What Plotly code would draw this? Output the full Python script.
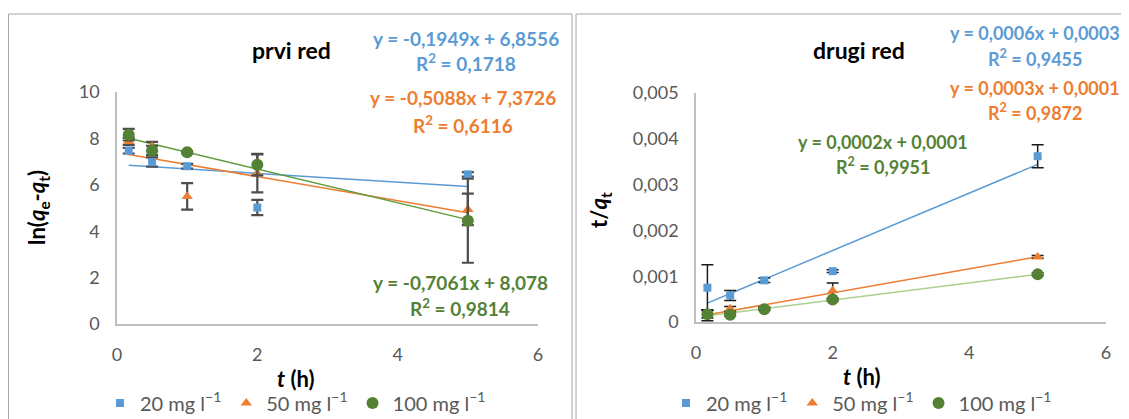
import numpy as np
import plotly.graph_objects as go

# page body has an 8px margin: the figure starts at (8, 8) in the window
OFF = 8
W, H = 1129 - OFF, 419 - OFF

# ---------------- data ----------------
t_h = [0.167, 0.5, 1, 2, 5]
series_names = ["20 mg l<sup>−1</sup>", "50 mg l<sup>−1</sup>", "100 mg l<sup>−1</sup>"]

# first order: ln(qe - qt)
ln_20 = [7.47, 6.98, 6.80, 5.02, 6.45]
ln_50 = [7.87, 7.65, 5.50, 6.50, 4.94]
ln_100 = [8.16, 7.48, 7.40, 6.86, 4.45]
ln_20_err = [0.12, 0.20, 0.10, 0.33, 0.10]
ln_50_err = [0.15, 0.20, 0.57, 0.83, 0.68]
ln_100_err = [0.25, 0.20, 0.05, 0.45, 1.81]

# second order: t / qt
tq_20 = [0.00075, 0.00058, 0.00091, 0.00111, 0.00362]
tq_50 = [0.00015, 0.00029, 0.00030, 0.00068, 0.00142]
tq_100 = [0.00017, 0.00016, 0.00028, 0.00049, 0.00104]
tq_20_err = [0.00050, 0.00011, 0.00005, 0.00003, 0.00025]
tq_50_err = [0.00012, 0.00005, 0.00003, 0.00017, 0.00003]
tq_100_err = [0.00008, 0.00003, 0.00002, 0.00003, 0.00003]

eq_first = ["y = -0,1949x + 6,8556", "y = -0,5088x + 7,3726", "y = -0,7061x + 8,078"]
r2_first = ["R<sup>2</sup> = 0,1718", "R<sup>2</sup> = 0,6116", "R<sup>2</sup> = 0,9814"]
eq_second = ["y = 0,0006x + 0,0003", "y = 0,0003x + 0,0001", "y = 0,0002x + 0,0001"]
r2_second = ["R<sup>2</sup> = 0,9455", "R<sup>2</sup> = 0,9872", "R<sup>2</sup> = 0,9951"]

x_ticks = [0, 2, 4, 6]
x_ticktext = ["0", "2", "4", "6"]
y1_ticks = [0, 2, 4, 6, 8, 10]
y1_ticktext = ["0", "2", "4", "6", "8", "10"]
y2_ticks = [0, 0.001, 0.002, 0.003, 0.004, 0.005]
y2_ticktext = ["0", "0,001", "0,002", "0,003", "0,004", "0,005"]

# ---------------- styles ----------------
FONT = "Lato"
blue, orange, green = "#5B9BD5", "#ED7D31", "#548235"
marker_cols = [blue, orange, green]
symbols = ["square", "triangle-up", "circle"]
msizes = [8, 10, 12]
line_cols_1 = [blue, orange, "#5E9B3E"]
line_cols_2 = [blue, orange, "#A9D18E"]
text_grey = "#595959"


def px(x):
    return (x - OFF) / W


def py(y):
    return 1 - (y - OFF) / H


fig = go.Figure()

first = [(ln_20, ln_20_err), (ln_50, ln_50_err), (ln_100, ln_100_err)]
second = [(tq_20, tq_20_err), (tq_50, tq_50_err), (tq_100, tq_100_err)]

# trendlines (fitted from data)
for i, (vals, _) in enumerate(first):
    k, b = np.polyfit(t_h, vals, 1)
    xs = [min(t_h), max(t_h)]
    fig.add_trace(go.Scatter(x=xs, y=[k * v + b for v in xs], mode="lines",
                             line=dict(color=line_cols_1[i], width=1.5),
                             showlegend=False, hoverinfo="skip",
                             xaxis="x", yaxis="y"))
for i, (vals, _) in enumerate(second):
    k, b = np.polyfit(t_h, vals, 1)
    xs = [min(t_h), max(t_h)]
    fig.add_trace(go.Scatter(x=xs, y=[k * v + b for v in xs], mode="lines",
                             line=dict(color=line_cols_2[i], width=1.5),
                             showlegend=False, hoverinfo="skip",
                             xaxis="x2", yaxis="y2"))

for i, (vals, err) in enumerate(first):
    fig.add_trace(go.Scatter(x=t_h, y=vals, mode="markers", name=series_names[i],
                             marker=dict(symbol=symbols[i], size=msizes[i], color=marker_cols[i]),
                             error_y=dict(type="data", array=err, visible=True,
                                          color="#4D4D4D", thickness=2.2, width=6),
                             xaxis="x", yaxis="y", legend="legend"))
for i, (vals, err) in enumerate(second):
    fig.add_trace(go.Scatter(x=t_h, y=vals, mode="markers", name=series_names[i],
                             marker=dict(symbol=symbols[i], size=msizes[i], color=marker_cols[i]),
                             error_y=dict(type="data", array=err, visible=True,
                                          color="#1A1A1A", thickness=1.5, width=6),
                             xaxis="x2", yaxis="y2", legend="legend2"))

axis_common = dict(showgrid=False, zeroline=False, showline=True, linecolor="#BFBFBF",
                   linewidth=1.5, tickfont=dict(family=FONT, size=18, color=text_grey),
                   tickmode="array", fixedrange=True, automargin=False)

legend_font = dict(family=FONT, size=20, color=text_grey)

fig.update_layout(
    width=W, height=H,
    margin=dict(l=0, r=0, t=0, b=0, autoexpand=False),
    paper_bgcolor="white", plot_bgcolor="white",
    font=dict(family=FONT),
    xaxis=dict(domain=[px(117), px(538)], range=[0, 6], tickvals=x_ticks, ticktext=x_ticktext,
               ticks="outside", ticklen=14, tickcolor="rgba(0,0,0,0)", anchor="y", **axis_common),
    yaxis=dict(domain=[py(324), py(92)], range=[0, 10], tickvals=y1_ticks, ticktext=y1_ticktext,
               ticks="outside", ticklen=12, tickcolor="rgba(0,0,0,0)", anchor="x", **axis_common),
    xaxis2=dict(domain=[px(696), px(1106)], range=[0, 6], tickvals=x_ticks, ticktext=x_ticktext,
                ticks="outside", ticklen=14, tickcolor="rgba(0,0,0,0)", anchor="y2", **axis_common),
    yaxis2=dict(domain=[py(322), py(93)], range=[0, 0.005], tickvals=y2_ticks, ticktext=y2_ticktext,
                ticks="outside", ticklen=12, tickcolor="rgba(0,0,0,0)", anchor="x2", **axis_common),
    legend=dict(orientation="h", x=px(100), y=py(403), xanchor="left", yanchor="middle",
                font=legend_font, bgcolor="rgba(0,0,0,0)", itemwidth=30, tracegroupgap=0),
    legend2=dict(orientation="h", x=px(666), y=py(403), xanchor="left", yanchor="middle",
                 font=legend_font, bgcolor="rgba(0,0,0,0)", itemwidth=30, tracegroupgap=0),
    showlegend=True,
)

# panel frames
fig.add_shape(type="rect", xref="paper", yref="paper", x0=px(8.5), x1=px(572), y0=py(440), y1=py(14),
              line=dict(color="#A6A6A6", width=1))
fig.add_shape(type="rect", xref="paper", yref="paper", x0=px(576), x1=px(1145), y0=py(440), y1=py(14),
              line=dict(color="#A6A6A6", width=1))


def ann(text, x, y, size, color, angle=0, bold=True):
    fig.add_annotation(text=f"<b>{text}</b>" if bold else text, x=px(x), y=py(y),
                       xref="paper", yref="paper", xanchor="center", yanchor="middle",
                       showarrow=False, textangle=angle,
                       font=dict(family=FONT, size=size, color=color))


# titles
ann("prvi red", 291, 50, 23, "#000000")
ann("drugi red", 859, 50, 23, "#000000")
ann("<i>t</i> (h)", 296, 378, 22, "#000000")
ann("<i>t</i> (h)", 862, 376, 22, "#000000")
ann("ln(<i>q</i><sub>e</sub>-<i>q</i><sub>t</sub>)", 38, 208, 22, "#000000", angle=-90)
ann("t/<i>q</i><sub>t</sub>", 600, 210, 22, "#000000", angle=-90)

# equations
eq_cols = [blue, orange, green]
first_pos = [(466, 38, 63), (463, 98, 124), (460, 282, 307)]
for i in range(3):
    x, y1, y2 = first_pos[i]
    ann(eq_first[i], x, y1, 19, eq_cols[i])
    ann(r2_first[i], x, y2, 19, eq_cols[i])

second_pos = [(1035, 33, 58), (1035, 88, 112), (883, 142, 166)]
for i in range(3):
    x, y1, y2 = second_pos[i]
    ann(eq_second[i], x, y1, 18, eq_cols[i])
    ann(r2_second[i], x, y2, 18, eq_cols[i])

fig.write_html("out.html")
